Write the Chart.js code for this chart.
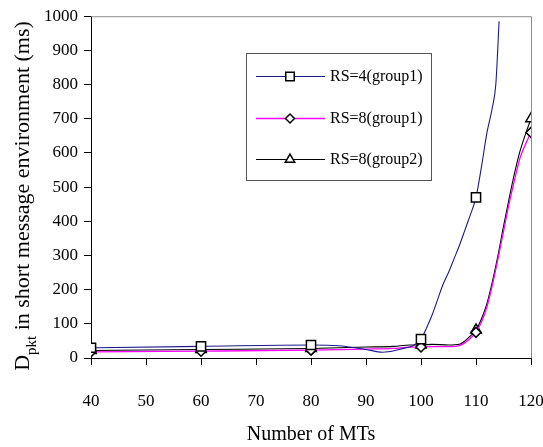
<!DOCTYPE html>
<html lang="en">
<head>
<meta charset="UTF-8" />
<title>Dpkt in short message environment</title>
<script src="https://cdn.jsdelivr.net/npm/chart.js"></script>
<style>
  html, body { margin: 0; padding: 0; background: #fff; }
</style>
</head>
<body>
<canvas id="delayChart" width="543" height="447"></canvas>
<script>
  // x values (number of MTs) for each curve
  const mtRs4 = [40, 60, 80, 85, 90, 93, 96, 100, 101, 102, 103, 104, 105, 106, 107, 108, 109, 110, 111, 112, 113, 113.6, 114.2];
  const mtRs8 = [40, 60, 80, 90, 95, 98, 100, 102, 105, 107, 108, 109, 110, 111, 112, 113, 114, 115, 116, 117, 118, 119, 120];

  // delay values (ms)
  const rs4g1 = [30, 34, 38, 36, 25, 17, 25, 55, 88, 125, 170, 215, 250, 290, 330, 375, 420, 470, 560, 660, 735, 800, 985];
  const rs8g1 = [18, 20, 23, 26, 28, 32, 32, 33, 33, 36, 45, 58, 75, 105, 150, 215, 290, 370, 450, 520, 585, 625, 660];
  const rs8g2 = [22, 25, 28, 32, 34, 38, 38, 40, 38, 40, 50, 65, 82, 115, 160, 225, 300, 385, 465, 540, 605, 655, 700];

  // where the markers sit
  const markerMTs = [40, 60, 80, 100, 110, 120];

  const seriesNames = ["RS=4(group1)", "RS=8(group1)", "RS=8(group2)"];
  const yTicks = [0, 100, 200, 300, 400, 500, 600, 700, 800, 900, 1000];
  const xTicks = [40, 50, 60, 70, 80, 90, 100, 110, 120];

  const FONT = "'Liberation Serif', 'Times New Roman', serif";

  function pts(xs, ys) {
    return xs.map((x, i) => ({ x: x, y: ys[i] }));
  }
  function radii(xs, r) {
    return xs.map(x => markerMTs.includes(x) ? r : 0);
  }

  const styles = [
    { color: "#1a1a8c", width: 1.1, marker: "rect", r: 6.5 },
    { color: "#ff00ff", width: 1.3, marker: "rectRot", r: 5 },
    { color: "#000000", width: 1.1, marker: "triangle", r: 6 }
  ];

  function drawMarker(ctx, style, x, y, r) {
    ctx.beginPath();
    if (style === "rect") {
      const s = Math.SQRT1_2 * r;
      ctx.rect(x - s, y - s, 2 * s, 2 * s);
    } else if (style === "rectRot") {
      ctx.moveTo(x, y - r); ctx.lineTo(x + r, y); ctx.lineTo(x, y + r); ctx.lineTo(x - r, y);
      ctx.closePath();
    } else {
      const a = Math.PI * 2 / 3;
      for (let k = 0; k < 3; k++) {
        const px = x + Math.sin(k * a) * r, py = y - Math.cos(k * a) * r;
        if (k === 0) ctx.moveTo(px, py); else ctx.lineTo(px, py);
      }
      ctx.closePath();
    }
    ctx.fill();
    ctx.stroke();
  }

  const extras = {
    id: "extras",
    afterDraw(chart) {
      const ctx = chart.ctx;
      const a = chart.chartArea;
      ctx.save();

      // grey frame on top and right
      ctx.strokeStyle = "#8c8c8c";
      ctx.lineWidth = 1;
      ctx.beginPath();
      ctx.moveTo(a.left, a.top + 0.5);
      ctx.lineTo(a.right + 0.5, a.top + 0.5);
      ctx.lineTo(a.right + 0.5, a.bottom);
      ctx.stroke();

      // legend box
      const lx = 246, ly = 53, lw = 185, lh = 127;
      ctx.strokeStyle = "#555";
      ctx.lineWidth = 1;
      ctx.strokeRect(lx + 0.5, ly + 0.5, lw, lh);
      const rows = [76, 118, 159];
      ctx.font = "16px " + FONT;
      ctx.textBaseline = "middle";
      ctx.textAlign = "left";
      rows.forEach((ry, i) => {
        const st = styles[i];
        ctx.strokeStyle = st.color;
        ctx.lineWidth = st.width;
        ctx.beginPath();
        ctx.moveTo(256, ry + 0.5);
        ctx.lineTo(325, ry + 0.5);
        ctx.stroke();
        ctx.fillStyle = "#fff";
        ctx.strokeStyle = "#000";
        ctx.lineWidth = 1.5;
        drawMarker(ctx, st.marker, 290, ry + 0.5, st.r - 0.5);
        ctx.fillStyle = "#000";
        ctx.fillText(seriesNames[i], 330, ry + 1);
      });

      // y axis title with subscript
      ctx.fillStyle = "#000";
      ctx.textBaseline = "alphabetic";
      ctx.translate(29, 196);
      ctx.rotate(-Math.PI / 2);
      const big = "22px " + FONT, small = "15px " + FONT;
      ctx.font = big;
      const wD = ctx.measureText("D").width;
      const rest = " in short message environment (ms)";
      const wRest = ctx.measureText(rest).width;
      ctx.font = small;
      const wSub = ctx.measureText("pkt").width;
      let x0 = -(wD + wSub + wRest) / 2;
      ctx.font = big;
      ctx.fillText("D", x0, 0);
      ctx.font = small;
      ctx.fillText("pkt", x0 + wD, 7);
      ctx.font = big;
      ctx.fillText(rest, x0 + wD + wSub, 0);
      ctx.restore();
    }
  };

  const datasets = [
    { x: mtRs4, y: rs4g1 },
    { x: mtRs8, y: rs8g1 },
    { x: mtRs8, y: rs8g2 }
  ].map((s, i) => ({
    label: seriesNames[i],
    data: pts(s.x, s.y),
    borderColor: styles[i].color,
    borderWidth: styles[i].width,
    pointStyle: styles[i].marker,
    pointRadius: radii(s.x, styles[i].r),
    pointBackgroundColor: "#fff",
    pointBorderColor: "#000",
    pointBorderWidth: 1.5,
    fill: false,
    cubicInterpolationMode: "monotone"
  }));

  new Chart(document.getElementById("delayChart"), {
    type: "line",
    data: { datasets: datasets },
    options: {
      responsive: false,
      animation: false,
      events: [],
      layout: { padding: { top: 16, left: 0, right: 0, bottom: 0 } },
      plugins: {
        legend: { display: false },
        tooltip: { enabled: false }
      },
      scales: {
        x: {
          type: "linear",
          min: 40,
          max: 120,
          afterBuildTicks(scale) { scale.ticks = xTicks.map(v => ({ value: v })); },
          afterFit(scale) {
            scale.height = 89;
            scale.paddingLeft = 0;
            scale.paddingRight = 12;
          },
          grid: { drawOnChartArea: false, drawTicks: true, tickLength: 7, tickColor: "#000" },
          border: { display: true, color: "#000", width: 1 },
          ticks: {
            color: "#000",
            font: { family: FONT, size: 17 },
            padding: 26,
            maxRotation: 0,
            callback: v => String(v)
          },
          title: {
            display: true,
            text: "Number of MTs",
            color: "#000",
            font: { family: FONT, size: 20 },
            padding: { top: 8, bottom: 0 }
          }
        },
        y: {
          min: 0,
          max: 1000,
          afterBuildTicks(scale) { scale.ticks = yTicks.map(v => ({ value: v })); },
          afterFit(scale) { scale.width = 91; },
          grid: { drawOnChartArea: false, drawTicks: true, tickLength: 7, tickColor: "#000" },
          border: { display: true, color: "#000", width: 1 },
          ticks: {
            color: "#000",
            font: { family: FONT, size: 17 },
            padding: 6,
            callback: v => String(v)
          }
        }
      }
    },
    plugins: [extras]
  });
</script>
</body>
</html>
